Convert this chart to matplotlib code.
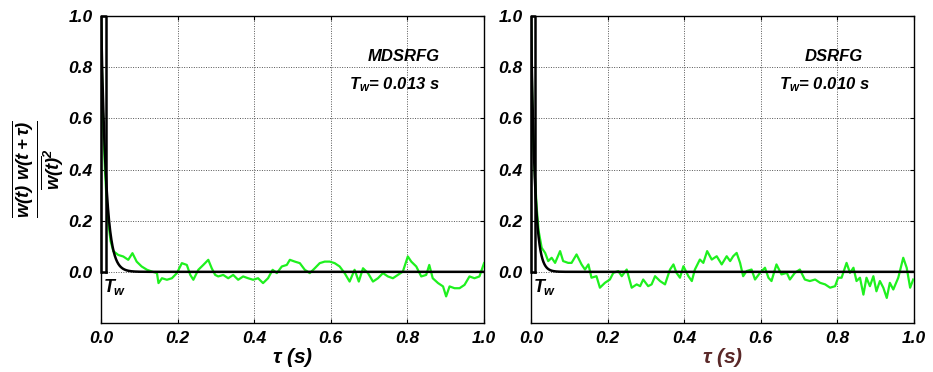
' Autocorrelation of w(t) for two random field generators, with integral time scale box. '

import numpy as np
import matplotlib
matplotlib.use('Agg')
import matplotlib.pyplot as plt

plt.rcParams['font.family'] = ['Liberation Sans', 'DejaVu Sans']
plt.rcParams['font.weight'] = 'bold'
plt.rcParams['font.style'] = 'italic'
plt.rcParams['axes.labelweight'] = 'bold'
plt.rcParams['mathtext.fontset'] = 'custom'
for key in ('rm', 'it', 'bf', 'sf'):
    plt.rcParams['mathtext.' + key] = 'Liberation Sans:style=italic:weight=bold'

# measured autocorrelation, MDSRFG
tau_mdsrfg = [0.0, 0.003, 0.006, 0.010, 0.015, 0.020, 0.025, 0.032, 0.045, 0.058,
              0.071, 0.082, 0.093, 0.106, 0.120, 0.133, 0.146, 0.150, 0.159, 0.172,
              0.185, 0.198, 0.211, 0.224, 0.233, 0.241, 0.254, 0.267, 0.280, 0.289,
              0.298, 0.306, 0.319, 0.332, 0.345, 0.358, 0.371, 0.384, 0.397, 0.410,
              0.423, 0.436, 0.448, 0.459, 0.472, 0.485, 0.493, 0.506, 0.519, 0.532,
              0.545, 0.558, 0.571, 0.584, 0.597, 0.610, 0.623, 0.636, 0.649, 0.662,
              0.673, 0.684, 0.697, 0.710, 0.723, 0.736, 0.749, 0.762, 0.775, 0.788,
              0.801, 0.810, 0.823, 0.836, 0.849, 0.857, 0.866, 0.880, 0.893, 0.901,
              0.910, 0.923, 0.936, 0.949, 0.962, 0.975, 0.988, 1.000]
r_mdsrfg = [1.0, 0.74, 0.56, 0.40, 0.27, 0.18, 0.12, 0.081, 0.066, 0.060,
            0.047, 0.073, 0.040, 0.021, 0.008, 0.001, -0.005, -0.044, -0.025, -0.031,
            -0.025, -0.005, 0.034, 0.027, -0.012, -0.031, 0.008, 0.027, 0.047, 0.014,
            -0.012, -0.018, -0.012, -0.025, -0.012, -0.031, -0.018, -0.025, -0.031, -0.025,
            -0.044, -0.025, 0.008, -0.005, 0.021, 0.027, 0.047, 0.040, 0.034, 0.008,
            -0.005, 0.014, 0.034, 0.040, 0.040, 0.034, 0.021, -0.005, -0.038, 0.008,
            -0.038, 0.014, -0.005, -0.038, -0.025, -0.005, -0.018, -0.025, -0.012, 0.001,
            0.060, 0.040, 0.021, -0.018, -0.012, 0.027, -0.025, -0.044, -0.057, -0.096,
            -0.057, -0.064, -0.064, -0.051, -0.018, -0.025, -0.018, 0.034]

# measured autocorrelation, DSRFG
tau_dsrfg = [0.0, 0.003, 0.006, 0.010, 0.015, 0.020, 0.028, 0.037, 0.045, 0.054,
             0.063, 0.076, 0.084, 0.097, 0.106, 0.119, 0.132, 0.141, 0.150, 0.158,
             0.171, 0.180, 0.193, 0.206, 0.215, 0.228, 0.237, 0.250, 0.263, 0.276,
             0.285, 0.293, 0.306, 0.315, 0.324, 0.337, 0.350, 0.363, 0.372, 0.380,
             0.389, 0.398, 0.411, 0.420, 0.428, 0.441, 0.450, 0.460, 0.472, 0.485,
             0.498, 0.511, 0.520, 0.528, 0.537, 0.546, 0.554, 0.563, 0.576, 0.585,
             0.598, 0.611, 0.620, 0.628, 0.641, 0.654, 0.668, 0.676, 0.689, 0.702,
             0.715, 0.728, 0.742, 0.755, 0.768, 0.781, 0.794, 0.802, 0.811, 0.824,
             0.833, 0.842, 0.850, 0.859, 0.868, 0.876, 0.885, 0.894, 0.902, 0.911,
             0.920, 0.929, 0.937, 0.946, 0.959, 0.972, 0.981, 0.990, 0.998]
r_dsrfg = [1.0, 0.70, 0.52, 0.38, 0.25, 0.16, 0.094, 0.074, 0.042, 0.055,
           0.035, 0.081, 0.042, 0.035, 0.035, 0.068, 0.029, 0.009, 0.029, -0.023,
           -0.017, -0.062, -0.043, -0.030, -0.004, 0.003, -0.017, 0.009, -0.062, -0.049,
           -0.056, -0.030, -0.056, -0.049, -0.017, -0.036, -0.049, 0.009, 0.029, -0.004,
           -0.023, 0.022, -0.017, -0.036, 0.009, 0.048, 0.035, 0.081, 0.048, 0.061,
           0.029, 0.061, 0.042, 0.061, 0.074, 0.035, -0.017, 0.003, 0.009, -0.030,
           -0.004, 0.016, -0.023, -0.036, 0.029, -0.010, -0.004, -0.030, -0.004, 0.009,
           -0.030, -0.036, -0.030, -0.043, -0.049, -0.062, -0.056, -0.023, -0.023, 0.035,
           -0.004, 0.016, -0.036, -0.023, -0.089, -0.023, -0.056, -0.017, -0.076, -0.036,
           -0.062, -0.102, -0.043, -0.069, -0.023, 0.055, 0.016, -0.062, -0.030]

names = ['MDSRFG', 'DSRFG']
time_scales = [0.013, 0.010]
xlabel_colors = ['black', '#5a2828']
GREEN = '#1ef01e'


def draw_panel(ax, tau, r, name, tw, label_color):
    ' one autocorrelation panel '
    t = np.linspace(0, 1, 2001)
    ax.plot(tau, r, color=GREEN, linewidth=1.6, zorder=3)
    ax.plot(t, np.exp(-t / tw), color='black', linewidth=1.8, zorder=4)
    ax.plot([0, 0, tw, tw], [0, 1, 1, 0], color='black', linewidth=1.8,
            zorder=5, clip_on=False)
    ax.plot([0, tw], [0, 0], color='black', linewidth=1.8, zorder=5)

    ax.set_xlim(0, 1)
    ax.set_ylim(-0.2, 1.0)
    ax.set_xticks(np.arange(0, 1.01, 0.2))
    ax.set_yticks(np.arange(0, 1.01, 0.2))
    ax.xaxis.set_major_formatter(plt.FormatStrFormatter('%.1f'))
    ax.yaxis.set_major_formatter(plt.FormatStrFormatter('%.1f'))
    ax.tick_params(direction='in', length=3, width=0.8, labelsize=12.5,
                   top=True, right=True, pad=6)
    for lab in ax.get_xticklabels() + ax.get_yticklabels():
        lab.set_fontweight('heavy')
    ax.grid(True, linestyle=(0, (1, 1.5)), color='#555555', linewidth=0.7)
    for spine in ax.spines.values():
        spine.set_linewidth(1.0)

    ax.text(0.79, 0.84, name, ha='center', va='center', fontsize=12)
    ax.text(0.765, 0.73, r'$T_w$' + f'= {tw:.3f} s', ha='center', va='center',
            fontsize=12)
    ax.text(0.004, -0.06, r'$T_w$', ha='left', va='center', fontsize=13)
    ax.set_xlabel(r'$\tau$ (s)', fontsize=15, fontweight='bold',
                  color=label_color, labelpad=0)


def main():
    ' duh '
    fig = plt.figure(figsize=(9.33, 3.72), dpi=100)
    ax1 = fig.add_axes([0.1083, 0.1317, 0.4105, 0.8253])
    ax2 = fig.add_axes([0.5691, 0.1317, 0.4105, 0.8253])

    draw_panel(ax1, tau_mdsrfg, r_mdsrfg, names[0], time_scales[0], xlabel_colors[0])
    draw_panel(ax2, tau_dsrfg, r_dsrfg, names[1], time_scales[1], xlabel_colors[1])

    ax1.set_ylabel(r'$\frac{\overline{w(t)\ w(t+\tau)}}{\overline{w(t)}^2}$',
                   fontsize=19, labelpad=2)

    fig.savefig('out.png', dpi=100)


if __name__ == '__main__':
    main()
